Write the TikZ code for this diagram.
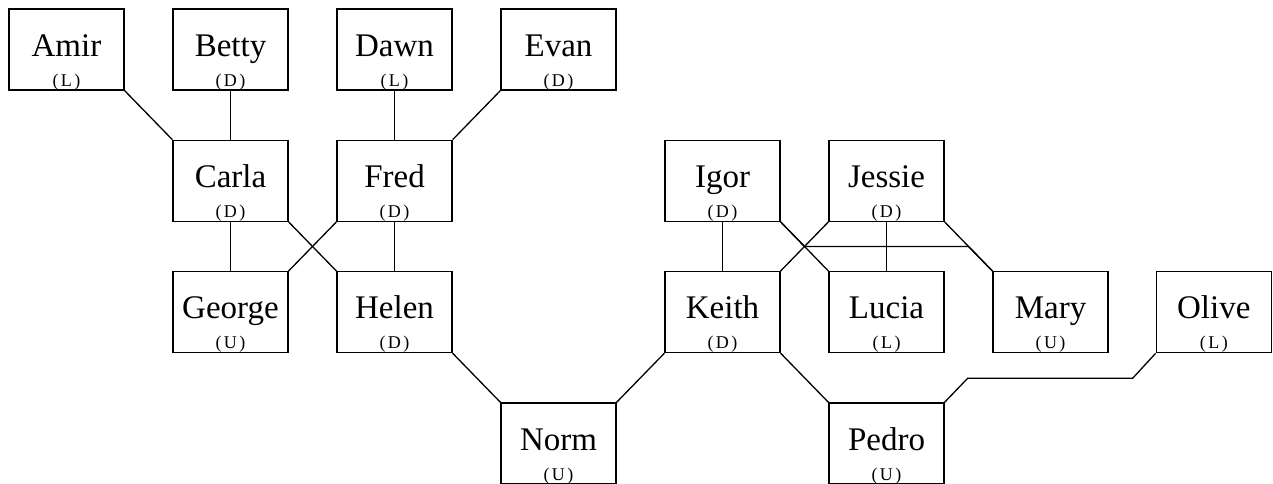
\documentclass[tikz,border=0pt]{standalone}
\usepackage{fontspec}
\setmainfont{Liberation Serif}
\usetikzlibrary{calc}
\tikzset{
  box/.style={draw, line width=1.3pt, rectangle, minimum width=115pt, minimum height=81pt, inner sep=0pt},
  nm/.style={inner sep=0pt, anchor=base, font=\fontsize{33}{36}\selectfont},
  lb/.style={inner sep=0pt, anchor=base, font=\fontsize{18}{20}\selectfont},
  conn/.style={line width=1.3pt}
}
\newcommand\person[4]{%
  \node[box] (#1) at (#2) {};
  \node[nm] (#1n) at ([yshift=-48pt]#1.north) {#3};
  \node[lb] (#1l) at ([yshift=-78pt]#1.north) {(\kern2.5pt#4\kern2.5pt)};
}
\begin{document}
\begin{tikzpicture}[x=1pt,y=-1pt]
\useasboundingbox (0,0) rectangle (1273,484);
\person{amir}{66.5,49.5}{Amir}{L}
\person{betty}{230.5,49.5}{Betty}{D}
\person{dawn}{394.5,49.5}{Dawn}{L}
\person{evan}{558.5,49.5}{Evan}{D}
\person{carla}{230.5,180.8}{Carla}{D}
\person{fred}{394.5,180.8}{Fred}{D}
\person{igor}{722.5,180.8}{Igor}{D}
\person{jessie}{886.5,180.8}{Jessie}{D}
\person{george}{230.5,312.1}{George}{U}
\person{helen}{394.5,312.1}{Helen}{D}
\person{keith}{722.5,312.1}{Keith}{D}
\person{lucia}{886.5,312.1}{Lucia}{L}
\person{mary}{1050.5,312.1}{Mary}{U}
\person{olive}{1213.8,312.1}{Olive}{L}
\person{norm}{558.5,443.4}{Norm}{U}
\person{pedro}{886.5,443.4}{Pedro}{U}

\draw[conn] (amir.south east) -- (carla.north west);
\draw[conn] (betty.south) -- (carla.north);
\draw[conn] (dawn.south) -- (fred.north);
\draw[conn] (evan.south west) -- (fred.north east);
\draw[conn] (carla.south) -- (george.north);
\draw[conn] (carla.south east) -- (helen.north west);
\draw[conn] (fred.south west) -- (george.north east);
\draw[conn] (fred.south) -- (helen.north);
\draw[conn] (igor.south) -- (keith.north);
\draw[conn] (igor.south east) -- (lucia.north west);
\draw[conn] (jessie.south west) -- (keith.north east);
\draw[conn] (jessie.south) -- (lucia.north);
\draw[conn] (jessie.south east) -- (mary.north west);
\coordinate (im1) at ($(igor.south east)!0.5!(lucia.north west)$);
\coordinate (im2) at ($(jessie.south east)!0.5!(mary.north west)$);
\draw[conn] (igor.south east) -- (im1) -- (im1 -| im2) -- (mary.north west);
\draw[conn] (helen.south east) -- (norm.north west);
\draw[conn] (keith.south west) -- (norm.north east);
\draw[conn] (keith.south east) -- (pedro.north west);
\coordinate (op1) at ($(olive.south west)+(-23,25)$);
\coordinate (op2x) at ($(pedro.north east)+(23,0)$);
\coordinate (op2) at (op2x |- op1);
\draw[conn] (olive.south west) -- (op1) -- (op2) -- (pedro.north east);
\end{tikzpicture}
\end{document}
